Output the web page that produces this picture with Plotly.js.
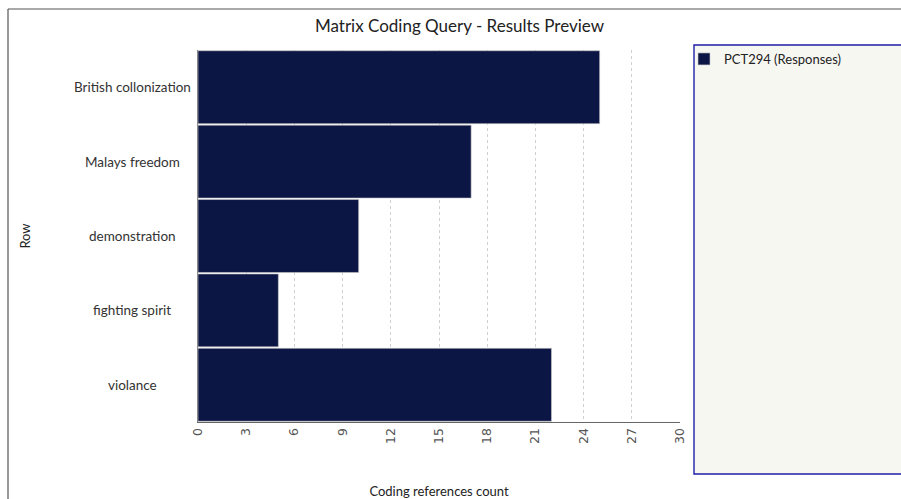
<!DOCTYPE html>
<html><head><meta charset="utf-8">
<script src="https://cdn.plot.ly/plotly-3.0.1.min.js"></script>
<style>html,body{margin:0;padding:0;background:#fff}#chart{width:901px;height:499px}</style>
</head><body><div id="chart"></div>
<script>
var categories = ["British collonization", "Malays freedom", "demonstration", "fighting spirit", "violance"];
var counts = [25, 17, 10, 5, 22];
var seriesName = "PCT294 (Responses)";
var tickVals = [0, 3, 6, 9, 12, 15, 18, 21, 24, 27, 30];

var W = 901, H = 499;
var L = 198, R = 221, T = 50, B = 77;
var pw = W - L - R, ph = H - T - B;
function px(x){ return (x - L) / pw; }
function py(y){ return (H - B - y) / ph; }

var trace = {
  type: 'bar', orientation: 'h',
  y: categories, x: counts, name: seriesName,
  marker: {color: '#0c1645', line: {color: '#c8c8c8', width: 0.6}},
  showlegend: true, hoverinfo: 'x+y'
};

var labelAnnotations = categories.map(function(c){
  return {xref: 'paper', yref: 'y', x: px(132), y: c, text: c, showarrow: false,
          xanchor: 'center', yanchor: 'middle',
          font: {family: 'Lato', size: 13.5, color: '#333'}};
});

var layout = {
  width: W, height: H,
  margin: {l: L, r: R, t: T, b: B, pad: 0},
  paper_bgcolor: '#ffffff', plot_bgcolor: '#ffffff',
  font: {family: 'Lato, "Open Sans", sans-serif', color: '#222'},
  title: {text: 'Matrix Coding Query - Results Preview', font: {family: 'Lato', size: 17, color: '#222'}, x: 0.51, xanchor: 'center', y: 0.948, yanchor: 'middle'},
  bargap: 0.02,
  xaxis: {
    range: [0, 30], tickvals: tickVals, ticktext: tickVals.map(String),
    tickangle: -90, tickfont: {family: 'DejaVu Sans', size: 12.5, color: '#555'},
    showgrid: true, gridcolor: '#d0d0d0', griddash: 'dot', gridwidth: 1,
    showline: true, linecolor: '#666', linewidth: 1, zeroline: false,
    ticks: '', fixedrange: true,
    title: {text: 'Coding references count', font: {family: 'Lato', size: 13, color: '#222'}, standoff: 44}
  },
  yaxis: {
    autorange: 'reversed', type: 'category', showticklabels: false,
    ticks: '', showline: true, linecolor: '#888', linewidth: 1, showgrid: false, zeroline: false,
    title: {text: 'Row', font: {family: 'Lato', size: 13, color: '#222'}, standoff: 163}
  },
  legend: {
    x: px(684), y: py(44), xanchor: 'left', yanchor: 'top',
    bgcolor: 'rgba(0,0,0,0)', borderwidth: 0,
    font: {family: 'Lato', size: 13, color: '#222'},
    itemwidth: 30
  },
  annotations: labelAnnotations,
  shapes: [
    {type: 'rect', xref: 'paper', yref: 'paper', x0: px(694), x1: px(912), y0: py(474), y1: py(45),
     fillcolor: '#f7f7f2', line: {color: '#1e1ea6', width: 1.4}, layer: 'below'},
    {type: 'line', xref: 'paper', yref: 'paper', x0: px(8), x1: px(905), y0: py(9), y1: py(9),
     line: {color: '#555', width: 1.2}},
    {type: 'line', xref: 'paper', yref: 'paper', x0: px(8), x1: px(8), y0: py(9), y1: py(505),
     line: {color: '#555', width: 1.2}}
  ]
};

Plotly.newPlot('chart', [trace], layout, {displayModeBar: false, staticPlot: true});
</script>
</body></html>
